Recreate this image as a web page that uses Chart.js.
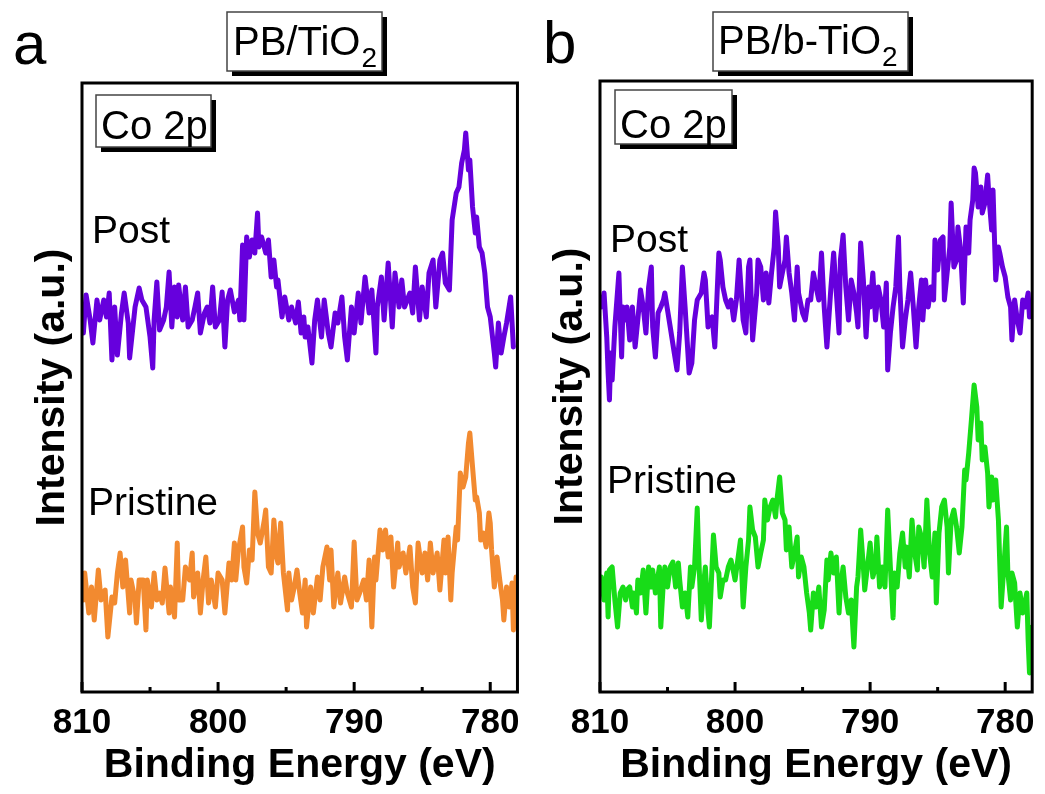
<!DOCTYPE html>
<html>
<head>
<meta charset="utf-8">
<script src="https://cdn.jsdelivr.net/npm/chart.js@4.4.1/dist/chart.umd.min.js"></script>
<style>
  html, body { margin: 0; padding: 0; background: #fff; }
  #wrap { position: relative; width: 1045px; height: 794px; }
  canvas { position: absolute; top: 0; }
</style>
</head>
<body>
<div id="wrap">
  <canvas id="chartA" width="530" height="794" style="left:0px"></canvas>
  <canvas id="chartB" width="515" height="794" style="left:530px"></canvas>
</div>
<script>
// x axis ticks (binding energy, eV)
const xTicks = [810, 805, 800, 795, 790, 785, 780];
const xMajor = [810, 800, 790, 780];

// panel a, PB/TiO2 - Post
const postA_E = [
  809.9,809.7,809.4,809.2,808.9,808.7,808.4,808.2,808.0,807.8,
  807.6,807.4,807.1,806.9,806.6,806.5,806.1,805.8,805.6,805.3,
  805.0,804.8,804.7,804.5,804.3,804.0,803.8,803.6,803.4,803.2,
  803.0,802.9,802.6,802.4,802.2,801.9,801.7,801.5,801.3,801.0,
  800.8,800.6,800.4,800.2,799.9,799.7,799.5,799.3,799.1,798.8,
  798.5,798.4,798.2,798.1,797.9,797.7,797.5,797.3,797.1,797.0,
  796.8,796.5,796.3,796.1,795.9,795.7,795.6,795.3,795.1,794.8,
  794.6,794.3,794.1,793.9,793.7,793.6,793.4,793.1,792.9,792.7,
  792.4,792.2,791.9,791.7,791.4,791.2,790.9,790.7,790.5,790.2,
  790.0,789.7,789.5,789.2,788.9,788.7,788.4,788.3,788.0,787.8,
  787.5,787.2,787.0,786.7,786.5,786.3,785.9,785.7,785.5,785.2,
  785.0,784.7,784.5,784.2,784.0,783.7,783.5,783.3,783.0,782.8,
  782.5,782.3,782.1,781.9,781.8,781.6,781.5,781.3,781.1,781.0,
  780.8,780.6,780.4,780.2,780.0,779.7,779.6,779.4,779.2,779.0,
  778.8,778.5,778.3
];
const postA_I = [
  359,397,372,349,392,372,392,375,399,332,
  385,337,379,399,369,334,385,404,392,385,
  355,324,372,410,362,372,385,420,365,405,
  375,407,372,405,365,372,385,399,359,379,
  385,369,405,365,372,400,345,392,402,380,
  392,372,447,372,455,435,452,439,479,445,
  455,439,452,415,432,405,412,375,395,372,
  385,369,390,359,375,355,365,329,372,392,
  355,392,359,345,379,369,395,355,332,385,
  359,399,369,415,379,402,339,385,415,372,
  429,365,419,385,412,385,399,379,425,372,
  405,375,419,432,385,432,439,409,402,472,
  499,505,529,542,559,522,532,485,459,475,
  445,439,419,385,375,339,325,369,339,355,
  369,395,345
];

// panel a, PB/TiO2 - Pristine
const prisA_E = [
  809.9,809.8,809.5,809.3,809.1,808.8,808.6,808.3,808.1,807.8,
  807.6,807.4,807.2,807.0,806.8,806.5,806.4,806.1,806.0,805.8,
  805.5,805.3,805.2,804.9,804.7,804.5,804.3,804.1,803.9,803.6,
  803.5,803.2,803.0,802.9,802.6,802.4,802.1,801.9,801.8,801.5,
  801.3,801.1,800.9,800.7,800.5,800.2,800.0,799.7,799.5,799.2,
  799.0,798.8,798.7,798.5,798.2,798.1,797.9,797.7,797.5,797.3,
  797.1,796.9,796.6,796.5,796.3,796.1,795.9,795.7,795.6,795.4,
  795.2,794.9,794.8,794.6,794.4,794.2,794.0,793.8,793.6,793.5,
  793.2,793.0,792.7,792.5,792.3,792.0,791.8,791.7,791.5,791.2,
  791.0,790.7,790.5,790.2,790.0,789.8,789.6,789.3,789.1,788.9,
  788.7,788.5,788.4,788.1,787.9,787.7,787.5,787.3,787.1,786.8,
  786.7,786.4,786.2,785.9,785.7,785.5,785.3,785.0,784.8,784.6,
  784.4,784.2,783.9,783.7,783.4,783.3,783.1,782.9,782.8,782.5,
  782.4,782.2,782.0,781.8,781.6,781.5,781.3,781.1,781.0,780.8,
  780.7,780.5,780.3,780.1,780.0,779.9,779.7,779.5,779.3,779.1,
  779.0,778.8,778.6,778.4,778.3,778.1
];
const prisA_I = [
  92,119,79,105,72,122,92,102,55,95,
  89,119,139,105,132,79,112,92,69,112,
  112,62,112,85,119,92,99,89,124,79,
  105,75,149,92,92,125,112,139,95,119,
  79,112,135,89,112,85,119,112,79,129,
  112,149,112,142,165,125,109,142,132,200,
  159,149,172,182,125,119,172,135,129,169,
  119,82,119,92,105,122,99,79,112,65,
  105,79,115,92,125,145,112,142,85,119,
  89,115,99,85,150,92,99,112,92,132,
  65,135,112,162,142,162,135,155,105,149,
  125,139,119,145,105,89,149,119,139,112,
  149,119,139,102,152,119,155,92,119,165,
  152,219,205,215,249,259,225,192,195,179,
  152,159,145,179,169,142,105,135,112,92,
  72,105,85,109,62,115
];

// panel b, PB/b-TiO2 - Post
const postB_E = [
  809.9,809.7,809.5,809.4,809.3,809.2,809.1,808.9,808.6,808.4,
  808.3,808.1,808.0,807.8,807.6,807.4,807.2,807.0,806.8,806.6,
  806.4,806.2,806.1,805.9,805.7,805.5,805.3,805.2,805.0,804.8,
  804.5,804.3,804.1,803.9,803.7,803.4,803.2,803.0,802.8,802.5,
  802.3,802.2,802.0,801.9,801.7,801.5,801.2,801.1,800.9,800.7,
  800.5,800.3,800.1,799.9,799.7,799.4,799.2,799.0,798.9,798.7,
  798.4,798.3,798.1,797.9,797.7,797.5,797.3,797.1,797.0,796.8,
  796.7,796.5,796.3,796.2,796.0,795.8,795.6,795.4,795.3,795.0,
  794.8,794.6,794.4,794.2,794.0,793.8,793.6,793.4,793.2,793.1,
  792.9,792.7,792.5,792.3,792.2,792.0,791.8,791.6,791.4,791.2,
  791.0,790.9,790.7,790.5,790.3,790.1,790.0,789.8,789.6,789.4,
  789.2,789.0,788.8,788.7,788.5,788.3,788.1,787.9,787.8,787.6,
  787.4,787.2,787.0,786.8,786.6,786.4,786.2,786.1,785.9,785.7,
  785.5,785.3,785.2,785.0,784.8,784.6,784.5,784.3,784.1,784.0,
  783.8,783.6,783.5,783.3,783.1,782.9,782.7,782.6,782.4,782.3,
  782.2,782.0,781.8,781.7,781.5,781.3,781.2,781.0,780.9,780.7,
  780.5,780.4,780.2,780.0,779.8,779.6,779.5,779.3,779.1,778.9,
  778.7,778.5,778.3,778.2
];
const postB_I = [
  385,399,355,319,292,339,312,365,419,335,
  385,372,385,352,385,345,372,402,385,359,
  405,425,365,335,379,385,392,399,382,365,
  339,322,359,425,385,319,329,372,392,399,
  419,412,365,372,375,345,439,432,405,392,
  385,392,372,392,432,372,359,425,432,352,
  399,432,425,392,419,389,419,445,480,445,
  405,419,432,455,419,399,372,425,399,379,
  372,392,392,419,405,392,439,385,345,365,
  405,439,399,359,432,457,405,372,412,399,
  379,365,449,412,355,405,385,419,372,405,
  392,365,409,322,359,385,405,455,405,345,
  372,392,419,385,345,385,412,372,412,385,
  405,392,452,422,452,455,392,419,445,489,
  425,432,465,442,389,465,439,472,492,524,
  519,485,505,479,489,517,495,462,502,412,
  445,439,425,415,395,385,352,392,372,359,
  392,385,399,375
];

// panel b, PB/b-TiO2 - Pristine
const prisB_E = [
  809.9,809.7,809.5,809.4,809.3,809.1,808.9,808.7,808.5,808.3,
  808.1,808.0,807.8,807.6,807.5,807.3,807.2,807.0,806.8,806.6,
  806.4,806.2,806.1,805.9,805.6,805.5,805.3,805.2,805.0,804.8,
  804.6,804.4,804.2,804.1,803.9,803.7,803.5,803.3,803.2,803.0,
  802.8,802.7,802.5,802.3,802.2,802.0,801.9,801.6,801.4,801.2,
  801.1,800.9,800.7,800.5,800.3,800.1,800.0,799.8,799.6,799.4,
  799.2,799.0,798.9,798.7,798.5,798.3,798.1,797.9,797.8,797.6,
  797.4,797.2,797.0,796.9,796.7,796.5,796.3,796.2,796.0,795.8,
  795.6,795.4,795.3,795.1,794.9,794.7,794.5,794.4,794.2,794.0,
  793.8,793.6,793.4,793.2,793.1,792.9,792.7,792.5,792.3,792.2,
  792.0,791.8,791.6,791.4,791.2,791.0,790.9,790.7,790.5,790.4,
  790.2,790.0,789.8,789.6,789.5,789.3,789.1,788.9,788.7,788.5,
  788.3,788.2,788.0,787.8,787.6,787.4,787.3,787.1,786.9,786.7,
  786.5,786.4,786.2,786.0,785.8,785.6,785.4,785.2,785.1,784.9,
  784.7,784.5,784.3,784.2,784.0,783.8,783.6,783.4,783.2,783.0,
  782.9,782.7,782.5,782.3,782.1,782.0,781.8,781.7,781.5,781.3,
  781.2,781.0,780.9,780.7,780.5,780.3,780.1,779.9,779.8,779.6,
  779.5,779.3,779.1,778.9,778.7,778.5,778.4,778.3,778.2,778.0
];
const prisB_I = [
  115,92,119,75,122,125,92,65,99,105,
  92,102,105,85,99,79,112,99,122,79,
  125,105,122,99,125,65,112,125,105,125,
  130,105,129,112,85,99,75,125,105,125,
  184,139,72,112,125,79,65,157,125,119,
  95,112,112,125,132,119,112,132,152,85,
  125,152,185,162,155,125,139,152,192,172,
  185,192,175,192,215,179,172,142,165,125,
  139,155,115,135,125,99,79,62,99,85,
  105,65,82,132,112,139,119,135,79,105,
  125,95,79,92,45,105,115,162,125,102,
  125,149,115,125,155,105,125,105,182,125,
  74,119,105,139,159,125,145,115,172,139,
  122,165,155,125,192,139,115,159,89,159,
  185,192,165,119,172,182,165,139,165,222,
  212,239,272,307,285,252,269,232,245,219,
  185,215,192,212,172,85,125,165,119,92,
  119,109,65,99,79,92,99,52,19,65
];

const FONT = '"Liberation Sans", Arial, Helvetica, sans-serif';
Chart.defaults.font.family = FONT;
Chart.defaults.color = '#000';

function pts(es, is) {
  return es.map((e, i) => ({ x: e, y: is[i] }));
}

// frame around the plot and inward ticks on the energy axis
const frameTicks = {
  id: 'frameTicks',
  afterDatasetsDraw(chart) {
    const { ctx, chartArea: a, scales: { x } } = chart;
    ctx.save();
    ctx.strokeStyle = '#000';
    ctx.lineWidth = 3;
    ctx.lineCap = 'butt';
    x.ticks.forEach(t => {
      const px = x.getPixelForValue(t.value);
      const len = xMajor.includes(t.value) ? 10 : 5;
      ctx.beginPath();
      ctx.moveTo(px, a.bottom);
      ctx.lineTo(px, a.bottom - len);
      ctx.stroke();
    });
    ctx.strokeRect(a.left, a.top, a.right - a.left, a.bottom - a.top);
    ctx.restore();
  }
};

function shadowBox(ctx, b) {
  ctx.fillStyle = '#000';
  ctx.fillRect(b.x + 5, b.y + 5, b.w, b.h);
  ctx.fillStyle = '#fff';
  ctx.fillRect(b.x, b.y, b.w, b.h);
  ctx.strokeStyle = '#444';
  ctx.lineWidth = 1.5;
  ctx.strokeRect(b.x, b.y, b.w, b.h);
}

// panel letter, sample title box, "Co 2p" box and curve labels
const deco = {
  id: 'deco',
  afterDraw(chart, args, o) {
    const ctx = chart.ctx;
    ctx.save();
    ctx.fillStyle = '#000';
    ctx.textBaseline = 'alphabetic';
    ctx.textAlign = 'left';
    ctx.font = '60px ' + FONT;
    ctx.fillText(o.letter.text, o.letter.x, o.letter.y);

    shadowBox(ctx, o.title.box);
    ctx.fillStyle = '#000';
    ctx.font = '40px ' + FONT;
    ctx.fillText(o.title.text, o.title.x, o.title.y);
    const w = ctx.measureText(o.title.text).width;
    ctx.font = '28px ' + FONT;
    ctx.fillText(o.title.sub, o.title.x + w + 1, o.title.y + 12);

    shadowBox(ctx, o.tag.box);
    ctx.fillStyle = '#000';
    ctx.font = '40px ' + FONT;
    ctx.fillText(o.tag.text, o.tag.x, o.tag.y);

    ctx.font = '39px ' + FONT;
    o.labels.forEach(l => ctx.fillText(l.text, l.x, l.y));
    ctx.restore();
  }
};

function makePanel(id, p) {
  new Chart(document.getElementById(id), {
    type: 'line',
    data: {
      datasets: [
        { label: 'Post', data: pts(p.postE, p.postI), borderColor: p.postColor },
        { label: 'Pristine', data: pts(p.prisE, p.prisI), borderColor: p.prisColor }
      ]
    },
    options: {
      responsive: false,
      animation: false,
      events: [],
      layout: { padding: { left: 0, top: p.top, right: p.right, bottom: 0 } },
      elements: {
        line: { borderWidth: 5, tension: 0, borderJoinStyle: 'round', borderCapStyle: 'round', fill: false },
        point: { radius: 0 }
      },
      plugins: {
        legend: { display: false },
        tooltip: { enabled: false },
        deco: p.deco
      },
      scales: {
        x: {
          type: 'linear',
          reverse: true,
          min: 778,
          max: 810,
          afterBuildTicks: s => { s.ticks = xTicks.map(v => ({ value: v })); },
          afterFit: s => { s.height = 102; },
          grid: { display: false, drawTicks: false },
          border: { display: false },
          ticks: {
            autoSkip: false,
            maxRotation: 0,
            padding: 10,
            font: { size: 35, weight: 'bold' },
            callback: v => xMajor.includes(v) ? String(v) : ''
          },
          title: {
            display: true,
            text: 'Binding Energy (eV)',
            font: { size: 41, weight: 'bold' },
            padding: { top: 0, bottom: 4 }
          }
        },
        y: {
          min: 0,
          max: p.yMax,
          afterFit: s => { s.width = p.yWidth; },
          grid: { display: false },
          border: { display: false },
          ticks: { display: false },
          title: {
            display: true,
            text: 'Intensity (a.u.)',
            font: { size: 41, weight: 'bold' },
            padding: { top: p.yTitlePad, bottom: 0 }
          }
        }
      }
    },
    plugins: [frameTicks, deco]
  });
}

makePanel('chartA', {
  postE: postA_E, postI: postA_I, prisE: prisA_E, prisI: prisA_I,
  postColor: '#6600DD', prisColor: '#F28A30',
  top: 83, right: 9, yMax: 609, yWidth: 82, yTitlePad: 28,
  deco: {
    letter: { text: 'a', x: 13, y: 64 },
    title: { text: 'PB/TiO', sub: '2', x: 233, y: 55, box: { x: 227, y: 12, w: 155, h: 59 } },
    tag: { text: 'Co 2p', x: 101, y: 139, box: { x: 96, y: 95, w: 115, h: 52 } },
    labels: [ { text: 'Post', x: 92, y: 243 }, { text: 'Pristine', x: 88, y: 515 } ]
  }
});

makePanel('chartB', {
  postE: postB_E, postI: postB_I, prisE: prisB_E, prisI: prisB_I,
  postColor: '#6600DD', prisColor: '#18DC18',
  top: 81, right: 10, yMax: 611, yWidth: 70, yTitlePad: 16,
  deco: {
    letter: { text: 'b', x: 13, y: 63 },
    title: { text: 'PB/b-TiO', sub: '2', x: 188, y: 54, box: { x: 183, y: 12, w: 195, h: 59 } },
    tag: { text: 'Co 2p', x: 90, y: 138, box: { x: 85, y: 90, w: 117, h: 54 } },
    labels: [ { text: 'Post', x: 80, y: 252 }, { text: 'Pristine', x: 77, y: 493 } ]
  }
});
</script>
</body>
</html>
